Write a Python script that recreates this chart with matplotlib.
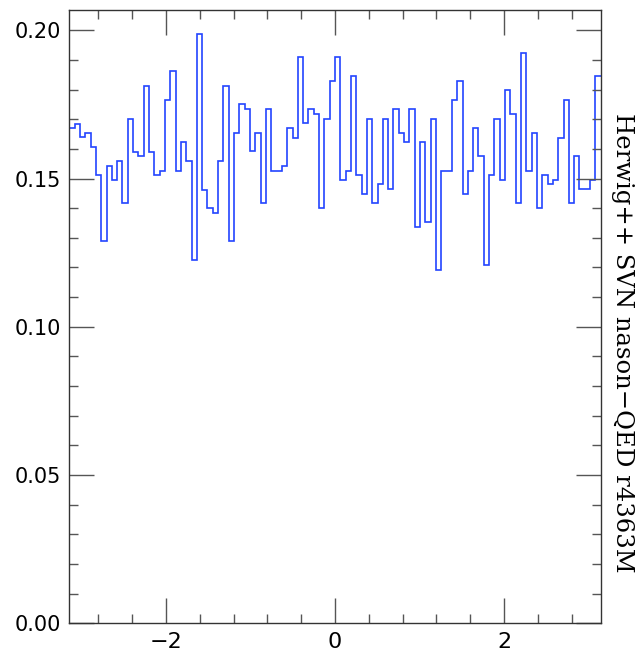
import numpy as np
import matplotlib
matplotlib.use("Agg")
import matplotlib.pyplot as plt
from matplotlib.ticker import MultipleLocator, FormatStrFormatter

# 100 bins from -pi to pi
values = [0.1671, 0.1685, 0.1639, 0.1654, 0.1607, 0.1511, 0.1290, 0.1543, 0.1496, 0.1558,
          0.1417, 0.1701, 0.1591, 0.1575, 0.1812, 0.1591, 0.1511, 0.1527, 0.1765, 0.1862,
          0.1527, 0.1622, 0.1558, 0.1226, 0.1989, 0.1463, 0.1401, 0.1385, 0.1558, 0.1812,
          0.1290, 0.1654, 0.1751, 0.1735, 0.1592, 0.1654, 0.1417, 0.1735, 0.1527, 0.1527,
          0.1543, 0.1671, 0.1638, 0.1910, 0.1686, 0.1735, 0.1718, 0.1401, 0.1702, 0.1830,
          0.1910, 0.1496, 0.1527, 0.1845, 0.1511, 0.1448, 0.1702, 0.1417, 0.1480, 0.1702,
          0.1464, 0.1735, 0.1655, 0.1624, 0.1735, 0.1337, 0.1622, 0.1353, 0.1702, 0.1193,
          0.1527, 0.1527, 0.1766, 0.1830, 0.1448, 0.1527, 0.1671, 0.1575, 0.1210, 0.1511,
          0.1702, 0.1496, 0.1799, 0.1718, 0.1417, 0.1925, 0.1527, 0.1654, 0.1401, 0.1511,
          0.1480, 0.1496, 0.1638, 0.1766, 0.1417, 0.1575, 0.1464, 0.1464, 0.1496, 0.1845]
edges = np.linspace(-np.pi, np.pi, len(values) + 1)
label = "Herwig++ SVN nason\u2212QED r4363M"

fig = plt.figure(figsize=(6.36, 6.61), dpi=100)
ax = fig.add_axes([0.109, 0.057, 0.8355, 0.9286])

ax.stairs(values, edges, baseline=None, color="#2244ff", lw=1.2)

ax.set_xlim(-np.pi, np.pi)
ax.set_ylim(0, 0.207)
ax.xaxis.set_major_locator(MultipleLocator(2))
ax.xaxis.set_minor_locator(MultipleLocator(0.4))
ax.yaxis.set_major_locator(MultipleLocator(0.05))
ax.yaxis.set_minor_locator(MultipleLocator(0.01))
ax.yaxis.set_major_formatter(FormatStrFormatter("%.2f"))

ax.tick_params(which="both", direction="in", top=True, right=True, color="#555555")
ax.tick_params(which="major", length=18, width=1)
ax.tick_params(which="minor", length=6.5, width=1)
ax.tick_params(axis="y", labelsize=15, pad=6)
ax.tick_params(axis="x", labelsize=16, pad=6)
for s in ax.spines.values():
    s.set_color("#333333")
    s.set_linewidth(1)

fig.text(0.979, 1 - 113 / 661, label, rotation=-90, ha="center", va="top",
         family="DejaVu Serif", fontsize=17.5)

fig.savefig("out.png", dpi=100)
